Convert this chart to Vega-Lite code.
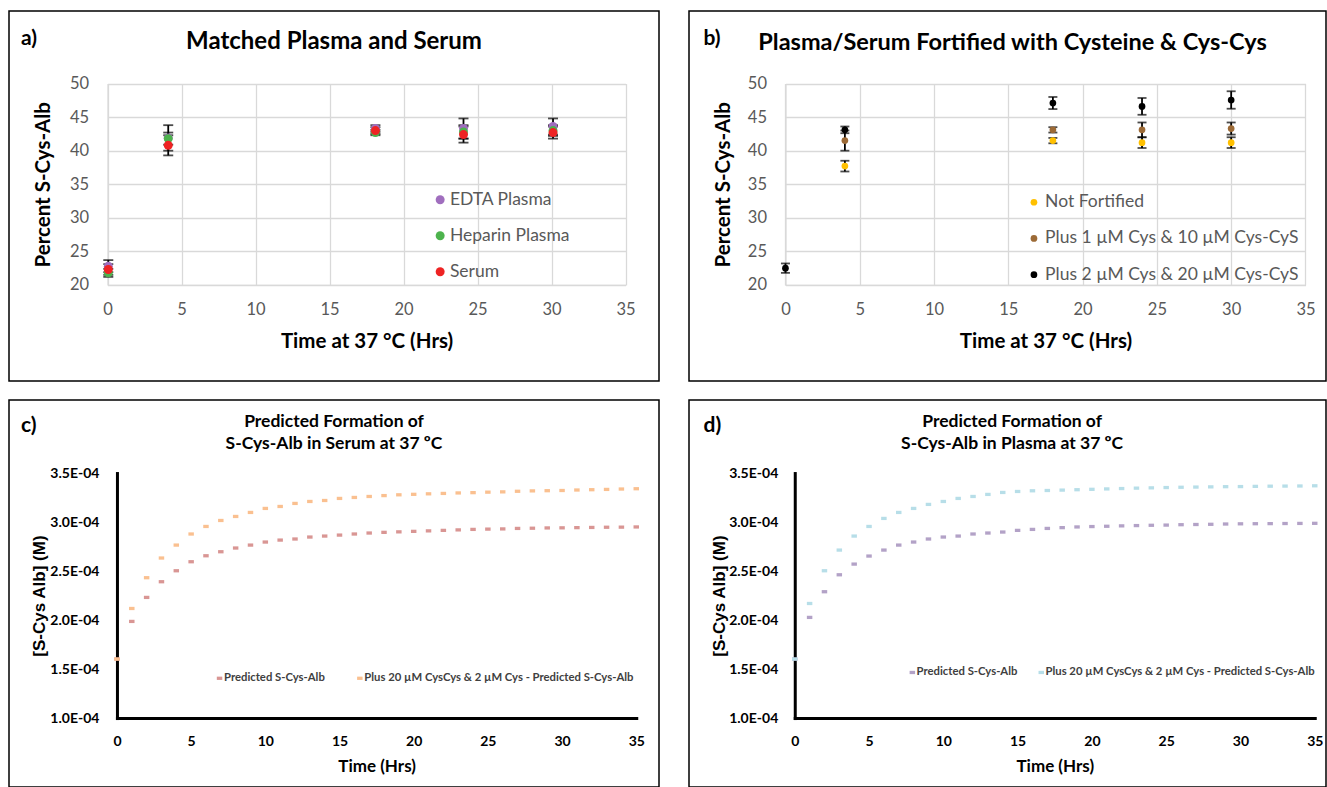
{
  "$schema": "https://vega.github.io/schema/vega-lite/v6.json",
  "background": "white",
  "padding": {"left": 8, "top": 10, "right": 0, "bottom": 0},
  "config": {
    "font": "Lato",
    "view": {"stroke": "#000000", "strokeWidth": 1.5},
    "title": {"font": "Lato", "fontWeight": "bold", "color": "#000000", "offset": 0, "baseline": "alphabetic", "frame": "group"},
    "axis": {"ticks": false, "tickSize": 0, "labelFlush": false, "labelFont": "Lato", "titleFont": "Lato", "titleFontWeight": "bold", "titleColor": "#000000"},
    "legend": {"labelFont": "Lato", "labelLimit": 500}
  },
  "datasets": {
    "a": [
      {"s": "EDTA Plasma", "t": 0.05, "v": 22.8, "e": 0.9},
      {"s": "EDTA Plasma", "t": 4.1, "v": 41.9, "e": 1.9},
      {"s": "EDTA Plasma", "t": 18.1, "v": 43.3, "e": 0.5},
      {"s": "EDTA Plasma", "t": 24.05, "v": 43.3, "e": 1.5},
      {"s": "EDTA Plasma", "t": 30.1, "v": 43.6, "e": 1.2},
      {"s": "Heparin Plasma", "t": 0.05, "v": 21.8, "e": 0.6},
      {"s": "Heparin Plasma", "t": 4.1, "v": 41.8, "e": 0.9},
      {"s": "Heparin Plasma", "t": 18.1, "v": 42.7, "e": 0.4},
      {"s": "Heparin Plasma", "t": 24.05, "v": 42.8, "e": 1.0},
      {"s": "Heparin Plasma", "t": 30.1, "v": 43.0, "e": 0.8},
      {"s": "Serum", "t": 0.05, "v": 22.3, "e": 0.8},
      {"s": "Serum", "t": 4.1, "v": 40.8, "e": 1.5},
      {"s": "Serum", "t": 18.1, "v": 43.0, "e": 0.5},
      {"s": "Serum", "t": 24.05, "v": 42.4, "e": 1.2},
      {"s": "Serum", "t": 30.1, "v": 42.7, "e": 0.9}
    ],
    "b": [
      {"s": "Not Fortified", "t": 4, "v": 37.7, "e": 0.8},
      {"s": "Not Fortified", "t": 18, "v": 41.5, "e": 0.4},
      {"s": "Not Fortified", "t": 24, "v": 41.2, "e": 0.8},
      {"s": "Not Fortified", "t": 30, "v": 41.2, "e": 0.8},
      {"s": "Plus 1 µM Cys & 10 µM Cys-CyS", "t": 4, "v": 41.5, "e": 1.5},
      {"s": "Plus 1 µM Cys & 10 µM Cys-CyS", "t": 18, "v": 43.1, "e": 0.4},
      {"s": "Plus 1 µM Cys & 10 µM Cys-CyS", "t": 24, "v": 43.1, "e": 1.1},
      {"s": "Plus 1 µM Cys & 10 µM Cys-CyS", "t": 30, "v": 43.3, "e": 0.9},
      {"s": "Plus 2 µM Cys & 20 µM Cys-CyS", "t": 0, "v": 22.5, "e": 0.7},
      {"s": "Plus 2 µM Cys & 20 µM Cys-CyS", "t": 4, "v": 43.1, "e": 0.5},
      {"s": "Plus 2 µM Cys & 20 µM Cys-CyS", "t": 18, "v": 47.1, "e": 0.9},
      {"s": "Plus 2 µM Cys & 20 µM Cys-CyS", "t": 24, "v": 46.6, "e": 1.25},
      {"s": "Plus 2 µM Cys & 20 µM Cys-CyS", "t": 30, "v": 47.55, "e": 1.3}
    ],
    "c": [
      {"s": "Predicted S-Cys-Alb", "t": 0, "v": 1.602e-4},
      {"s": "Predicted S-Cys-Alb", "t": 1, "v": 1.986e-4},
      {"s": "Predicted S-Cys-Alb", "t": 2, "v": 2.231e-4},
      {"s": "Predicted S-Cys-Alb", "t": 3, "v": 2.391e-4},
      {"s": "Predicted S-Cys-Alb", "t": 4, "v": 2.503e-4},
      {"s": "Predicted S-Cys-Alb", "t": 5, "v": 2.595e-4},
      {"s": "Predicted S-Cys-Alb", "t": 6, "v": 2.656e-4},
      {"s": "Predicted S-Cys-Alb", "t": 7, "v": 2.697e-4},
      {"s": "Predicted S-Cys-Alb", "t": 8, "v": 2.735e-4},
      {"s": "Predicted S-Cys-Alb", "t": 9, "v": 2.765e-4},
      {"s": "Predicted S-Cys-Alb", "t": 10, "v": 2.796e-4},
      {"s": "Predicted S-Cys-Alb", "t": 11, "v": 2.816e-4},
      {"s": "Predicted S-Cys-Alb", "t": 12, "v": 2.827e-4},
      {"s": "Predicted S-Cys-Alb", "t": 13, "v": 2.847e-4},
      {"s": "Predicted S-Cys-Alb", "t": 14, "v": 2.857e-4},
      {"s": "Predicted S-Cys-Alb", "t": 15, "v": 2.867e-4},
      {"s": "Predicted S-Cys-Alb", "t": 16, "v": 2.878e-4},
      {"s": "Predicted S-Cys-Alb", "t": 17, "v": 2.888e-4},
      {"s": "Predicted S-Cys-Alb", "t": 18, "v": 2.895e-4},
      {"s": "Predicted S-Cys-Alb", "t": 19, "v": 2.900e-4},
      {"s": "Predicted S-Cys-Alb", "t": 20, "v": 2.905e-4},
      {"s": "Predicted S-Cys-Alb", "t": 21, "v": 2.910e-4},
      {"s": "Predicted S-Cys-Alb", "t": 22, "v": 2.915e-4},
      {"s": "Predicted S-Cys-Alb", "t": 23, "v": 2.920e-4},
      {"s": "Predicted S-Cys-Alb", "t": 24, "v": 2.925e-4},
      {"s": "Predicted S-Cys-Alb", "t": 25, "v": 2.928e-4},
      {"s": "Predicted S-Cys-Alb", "t": 26, "v": 2.930e-4},
      {"s": "Predicted S-Cys-Alb", "t": 27, "v": 2.935e-4},
      {"s": "Predicted S-Cys-Alb", "t": 28, "v": 2.937e-4},
      {"s": "Predicted S-Cys-Alb", "t": 29, "v": 2.940e-4},
      {"s": "Predicted S-Cys-Alb", "t": 30, "v": 2.941e-4},
      {"s": "Predicted S-Cys-Alb", "t": 31, "v": 2.943e-4},
      {"s": "Predicted S-Cys-Alb", "t": 32, "v": 2.945e-4},
      {"s": "Predicted S-Cys-Alb", "t": 33, "v": 2.947e-4},
      {"s": "Predicted S-Cys-Alb", "t": 34, "v": 2.948e-4},
      {"s": "Predicted S-Cys-Alb", "t": 35, "v": 2.950e-4},
      {"s": "Plus 20 µM CysCys & 2 µM Cys - Predicted S-Cys-Alb", "t": 0, "v": 1.602e-4},
      {"s": "Plus 20 µM CysCys & 2 µM Cys - Predicted S-Cys-Alb", "t": 1, "v": 2.118e-4},
      {"s": "Plus 20 µM CysCys & 2 µM Cys - Predicted S-Cys-Alb", "t": 2, "v": 2.432e-4},
      {"s": "Plus 20 µM CysCys & 2 µM Cys - Predicted S-Cys-Alb", "t": 3, "v": 2.633e-4},
      {"s": "Plus 20 µM CysCys & 2 µM Cys - Predicted S-Cys-Alb", "t": 4, "v": 2.765e-4},
      {"s": "Plus 20 µM CysCys & 2 µM Cys - Predicted S-Cys-Alb", "t": 5, "v": 2.878e-4},
      {"s": "Plus 20 µM CysCys & 2 µM Cys - Predicted S-Cys-Alb", "t": 6, "v": 2.955e-4},
      {"s": "Plus 20 µM CysCys & 2 µM Cys - Predicted S-Cys-Alb", "t": 7, "v": 3.016e-4},
      {"s": "Plus 20 µM CysCys & 2 µM Cys - Predicted S-Cys-Alb", "t": 8, "v": 3.057e-4},
      {"s": "Plus 20 µM CysCys & 2 µM Cys - Predicted S-Cys-Alb", "t": 9, "v": 3.098e-4},
      {"s": "Plus 20 µM CysCys & 2 µM Cys - Predicted S-Cys-Alb", "t": 10, "v": 3.139e-4},
      {"s": "Plus 20 µM CysCys & 2 µM Cys - Predicted S-Cys-Alb", "t": 11, "v": 3.159e-4},
      {"s": "Plus 20 µM CysCys & 2 µM Cys - Predicted S-Cys-Alb", "t": 12, "v": 3.190e-4},
      {"s": "Plus 20 µM CysCys & 2 µM Cys - Predicted S-Cys-Alb", "t": 13, "v": 3.210e-4},
      {"s": "Plus 20 µM CysCys & 2 µM Cys - Predicted S-Cys-Alb", "t": 14, "v": 3.220e-4},
      {"s": "Plus 20 µM CysCys & 2 µM Cys - Predicted S-Cys-Alb", "t": 15, "v": 3.241e-4},
      {"s": "Plus 20 µM CysCys & 2 µM Cys - Predicted S-Cys-Alb", "t": 16, "v": 3.251e-4},
      {"s": "Plus 20 µM CysCys & 2 µM Cys - Predicted S-Cys-Alb", "t": 17, "v": 3.261e-4},
      {"s": "Plus 20 µM CysCys & 2 µM Cys - Predicted S-Cys-Alb", "t": 18, "v": 3.270e-4},
      {"s": "Plus 20 µM CysCys & 2 µM Cys - Predicted S-Cys-Alb", "t": 19, "v": 3.278e-4},
      {"s": "Plus 20 µM CysCys & 2 µM Cys - Predicted S-Cys-Alb", "t": 20, "v": 3.283e-4},
      {"s": "Plus 20 µM CysCys & 2 µM Cys - Predicted S-Cys-Alb", "t": 21, "v": 3.288e-4},
      {"s": "Plus 20 µM CysCys & 2 µM Cys - Predicted S-Cys-Alb", "t": 22, "v": 3.292e-4},
      {"s": "Plus 20 µM CysCys & 2 µM Cys - Predicted S-Cys-Alb", "t": 23, "v": 3.297e-4},
      {"s": "Plus 20 µM CysCys & 2 µM Cys - Predicted S-Cys-Alb", "t": 24, "v": 3.300e-4},
      {"s": "Plus 20 µM CysCys & 2 µM Cys - Predicted S-Cys-Alb", "t": 25, "v": 3.305e-4},
      {"s": "Plus 20 µM CysCys & 2 µM Cys - Predicted S-Cys-Alb", "t": 26, "v": 3.308e-4},
      {"s": "Plus 20 µM CysCys & 2 µM Cys - Predicted S-Cys-Alb", "t": 27, "v": 3.314e-4},
      {"s": "Plus 20 µM CysCys & 2 µM Cys - Predicted S-Cys-Alb", "t": 28, "v": 3.318e-4},
      {"s": "Plus 20 µM CysCys & 2 µM Cys - Predicted S-Cys-Alb", "t": 29, "v": 3.320e-4},
      {"s": "Plus 20 µM CysCys & 2 µM Cys - Predicted S-Cys-Alb", "t": 30, "v": 3.322e-4},
      {"s": "Plus 20 µM CysCys & 2 µM Cys - Predicted S-Cys-Alb", "t": 31, "v": 3.327e-4},
      {"s": "Plus 20 µM CysCys & 2 µM Cys - Predicted S-Cys-Alb", "t": 32, "v": 3.330e-4},
      {"s": "Plus 20 µM CysCys & 2 µM Cys - Predicted S-Cys-Alb", "t": 33, "v": 3.333e-4},
      {"s": "Plus 20 µM CysCys & 2 µM Cys - Predicted S-Cys-Alb", "t": 34, "v": 3.337e-4},
      {"s": "Plus 20 µM CysCys & 2 µM Cys - Predicted S-Cys-Alb", "t": 35, "v": 3.340e-4}
    ],
    "d": [
      {"s": "Predicted S-Cys-Alb", "t": 0, "v": 1.602e-4},
      {"s": "Predicted S-Cys-Alb", "t": 1, "v": 2.027e-4},
      {"s": "Predicted S-Cys-Alb", "t": 2, "v": 2.289e-4},
      {"s": "Predicted S-Cys-Alb", "t": 3, "v": 2.462e-4},
      {"s": "Predicted S-Cys-Alb", "t": 4, "v": 2.571e-4},
      {"s": "Predicted S-Cys-Alb", "t": 5, "v": 2.653e-4},
      {"s": "Predicted S-Cys-Alb", "t": 6, "v": 2.714e-4},
      {"s": "Predicted S-Cys-Alb", "t": 7, "v": 2.765e-4},
      {"s": "Predicted S-Cys-Alb", "t": 8, "v": 2.796e-4},
      {"s": "Predicted S-Cys-Alb", "t": 9, "v": 2.827e-4},
      {"s": "Predicted S-Cys-Alb", "t": 10, "v": 2.847e-4},
      {"s": "Predicted S-Cys-Alb", "t": 11, "v": 2.857e-4},
      {"s": "Predicted S-Cys-Alb", "t": 12, "v": 2.878e-4},
      {"s": "Predicted S-Cys-Alb", "t": 13, "v": 2.888e-4},
      {"s": "Predicted S-Cys-Alb", "t": 14, "v": 2.898e-4},
      {"s": "Predicted S-Cys-Alb", "t": 15, "v": 2.915e-4},
      {"s": "Predicted S-Cys-Alb", "t": 16, "v": 2.925e-4},
      {"s": "Predicted S-Cys-Alb", "t": 17, "v": 2.935e-4},
      {"s": "Predicted S-Cys-Alb", "t": 18, "v": 2.943e-4},
      {"s": "Predicted S-Cys-Alb", "t": 19, "v": 2.950e-4},
      {"s": "Predicted S-Cys-Alb", "t": 20, "v": 2.954e-4},
      {"s": "Predicted S-Cys-Alb", "t": 21, "v": 2.957e-4},
      {"s": "Predicted S-Cys-Alb", "t": 22, "v": 2.961e-4},
      {"s": "Predicted S-Cys-Alb", "t": 23, "v": 2.964e-4},
      {"s": "Predicted S-Cys-Alb", "t": 24, "v": 2.967e-4},
      {"s": "Predicted S-Cys-Alb", "t": 25, "v": 2.969e-4},
      {"s": "Predicted S-Cys-Alb", "t": 26, "v": 2.973e-4},
      {"s": "Predicted S-Cys-Alb", "t": 27, "v": 2.975e-4},
      {"s": "Predicted S-Cys-Alb", "t": 28, "v": 2.977e-4},
      {"s": "Predicted S-Cys-Alb", "t": 29, "v": 2.980e-4},
      {"s": "Predicted S-Cys-Alb", "t": 30, "v": 2.982e-4},
      {"s": "Predicted S-Cys-Alb", "t": 31, "v": 2.983e-4},
      {"s": "Predicted S-Cys-Alb", "t": 32, "v": 2.984e-4},
      {"s": "Predicted S-Cys-Alb", "t": 33, "v": 2.985e-4},
      {"s": "Predicted S-Cys-Alb", "t": 34, "v": 2.986e-4},
      {"s": "Predicted S-Cys-Alb", "t": 35, "v": 2.987e-4},
      {"s": "Plus 20 µM CysCys & 2 µM Cys - Predicted S-Cys-Alb", "t": 0, "v": 1.602e-4},
      {"s": "Plus 20 µM CysCys & 2 µM Cys - Predicted S-Cys-Alb", "t": 1, "v": 2.169e-4},
      {"s": "Plus 20 µM CysCys & 2 µM Cys - Predicted S-Cys-Alb", "t": 2, "v": 2.503e-4},
      {"s": "Plus 20 µM CysCys & 2 µM Cys - Predicted S-Cys-Alb", "t": 3, "v": 2.714e-4},
      {"s": "Plus 20 µM CysCys & 2 µM Cys - Predicted S-Cys-Alb", "t": 4, "v": 2.857e-4},
      {"s": "Plus 20 µM CysCys & 2 µM Cys - Predicted S-Cys-Alb", "t": 5, "v": 2.955e-4},
      {"s": "Plus 20 µM CysCys & 2 µM Cys - Predicted S-Cys-Alb", "t": 6, "v": 3.037e-4},
      {"s": "Plus 20 µM CysCys & 2 µM Cys - Predicted S-Cys-Alb", "t": 7, "v": 3.098e-4},
      {"s": "Plus 20 µM CysCys & 2 µM Cys - Predicted S-Cys-Alb", "t": 8, "v": 3.139e-4},
      {"s": "Plus 20 µM CysCys & 2 µM Cys - Predicted S-Cys-Alb", "t": 9, "v": 3.180e-4},
      {"s": "Plus 20 µM CysCys & 2 µM Cys - Predicted S-Cys-Alb", "t": 10, "v": 3.210e-4},
      {"s": "Plus 20 µM CysCys & 2 µM Cys - Predicted S-Cys-Alb", "t": 11, "v": 3.241e-4},
      {"s": "Plus 20 µM CysCys & 2 µM Cys - Predicted S-Cys-Alb", "t": 12, "v": 3.261e-4},
      {"s": "Plus 20 µM CysCys & 2 µM Cys - Predicted S-Cys-Alb", "t": 13, "v": 3.282e-4},
      {"s": "Plus 20 µM CysCys & 2 µM Cys - Predicted S-Cys-Alb", "t": 14, "v": 3.302e-4},
      {"s": "Plus 20 µM CysCys & 2 µM Cys - Predicted S-Cys-Alb", "t": 15, "v": 3.312e-4},
      {"s": "Plus 20 µM CysCys & 2 µM Cys - Predicted S-Cys-Alb", "t": 16, "v": 3.319e-4},
      {"s": "Plus 20 µM CysCys & 2 µM Cys - Predicted S-Cys-Alb", "t": 17, "v": 3.322e-4},
      {"s": "Plus 20 µM CysCys & 2 µM Cys - Predicted S-Cys-Alb", "t": 18, "v": 3.326e-4},
      {"s": "Plus 20 µM CysCys & 2 µM Cys - Predicted S-Cys-Alb", "t": 19, "v": 3.330e-4},
      {"s": "Plus 20 µM CysCys & 2 µM Cys - Predicted S-Cys-Alb", "t": 20, "v": 3.334e-4},
      {"s": "Plus 20 µM CysCys & 2 µM Cys - Predicted S-Cys-Alb", "t": 21, "v": 3.338e-4},
      {"s": "Plus 20 µM CysCys & 2 µM Cys - Predicted S-Cys-Alb", "t": 22, "v": 3.342e-4},
      {"s": "Plus 20 µM CysCys & 2 µM Cys - Predicted S-Cys-Alb", "t": 23, "v": 3.346e-4},
      {"s": "Plus 20 µM CysCys & 2 µM Cys - Predicted S-Cys-Alb", "t": 24, "v": 3.349e-4},
      {"s": "Plus 20 µM CysCys & 2 µM Cys - Predicted S-Cys-Alb", "t": 25, "v": 3.352e-4},
      {"s": "Plus 20 µM CysCys & 2 µM Cys - Predicted S-Cys-Alb", "t": 26, "v": 3.355e-4},
      {"s": "Plus 20 µM CysCys & 2 µM Cys - Predicted S-Cys-Alb", "t": 27, "v": 3.357e-4},
      {"s": "Plus 20 µM CysCys & 2 µM Cys - Predicted S-Cys-Alb", "t": 28, "v": 3.359e-4},
      {"s": "Plus 20 µM CysCys & 2 µM Cys - Predicted S-Cys-Alb", "t": 29, "v": 3.361e-4},
      {"s": "Plus 20 µM CysCys & 2 µM Cys - Predicted S-Cys-Alb", "t": 30, "v": 3.362e-4},
      {"s": "Plus 20 µM CysCys & 2 µM Cys - Predicted S-Cys-Alb", "t": 31, "v": 3.364e-4},
      {"s": "Plus 20 µM CysCys & 2 µM Cys - Predicted S-Cys-Alb", "t": 32, "v": 3.366e-4},
      {"s": "Plus 20 µM CysCys & 2 µM Cys - Predicted S-Cys-Alb", "t": 33, "v": 3.367e-4},
      {"s": "Plus 20 µM CysCys & 2 µM Cys - Predicted S-Cys-Alb", "t": 34, "v": 3.368e-4},
      {"s": "Plus 20 µM CysCys & 2 µM Cys - Predicted S-Cys-Alb", "t": 35, "v": 3.370e-4}
    ]
  },
  "spacing": 17,
  "resolve": {"scale": {"color": "independent"}},
  "vconcat": [
    {
      "spacing": 28,
      "resolve": {"scale": {"color": "independent"}},
      "hconcat": [
        {
          "title": {"text": "a)", "anchor": "start", "fontSize": 21, "dx": 12, "dy": 43},
          "vconcat": [
            {
              "width": 650,
              "height": 370,
              "data": {"name": "a"},
              "title": {"text": "Matched Plasma and Serum", "anchor": "middle", "fontSize": 24, "dy": 47},
              "resolve": {"axis": {"x": "independent"}},
              "layer": [
                {
                  "mark": {"type": "errorbar", "color": "#000000", "ticks": {"size": 10, "thickness": 1.8}, "rule": {"strokeWidth": 1.8}},
                  "encoding": {
                    "x": {"field": "t", "type": "quantitative", "scale": {"domain": [0, 35], "range": [98.55, 616.55], "nice": false, "zero": false},
                      "axis": {"orient": "top", "grid": true, "gridColor": "#d9d9d9", "gridWidth": 1.3, "labels": false, "domain": false, "ticks": false, "title": null, "values": [0, 5, 10, 15, 20, 25, 30, 35]}},
                    "y": {"field": "v", "type": "quantitative", "scale": {"domain": [20, 50], "range": [273.95, 72.55], "nice": false, "zero": false},
                      "axis": {"offset": -98.55, "grid": true, "gridColor": "#d9d9d9", "gridWidth": 1.3, "values": [20, 25, 30, 35, 40, 45, 50], "title": "Percent S-Cys-Alb", "titleFontSize": 20.5, "titlePadding": 15.5, "labelFontSize": 16.5, "labelColor": "#595959", "labelPadding": 19, "domainColor": "#d9d9d9", "domainWidth": 1.3}},
                    "yError": {"field": "e"}
                  }
                },
                {
                  "mark": {"type": "circle", "size": 80, "opacity": 1},
                  "encoding": {
                    "x": {"field": "t", "type": "quantitative", "scale": {"domain": [0, 35], "range": [98.55, 616.55], "nice": false, "zero": false},
                      "axis": {"orient": "bottom", "offset": -96.05, "grid": false, "values": [0, 5, 10, 15, 20, 25, 30, 35], "title": "Time at 37 °C (Hrs)", "titleFontSize": 20.5, "titlePadding": 13.5, "labelFontSize": 16.5, "labelColor": "#595959", "labelPadding": 17, "domainColor": "#d9d9d9", "domainWidth": 1.3}},
                    "y": {"field": "v", "type": "quantitative", "scale": {"domain": [20, 50], "range": [273.95, 72.55], "nice": false, "zero": false},
                      "axis": {"offset": -98.55, "grid": true, "gridColor": "#d9d9d9", "gridWidth": 1.3, "values": [20, 25, 30, 35, 40, 45, 50], "title": "Percent S-Cys-Alb", "titleFontSize": 20.5, "titlePadding": 15.5, "labelFontSize": 16.5, "labelColor": "#595959", "labelPadding": 19, "domainColor": "#d9d9d9", "domainWidth": 1.3}},
                    "color": {"field": "s", "type": "nominal",
                      "scale": {"domain": ["EDTA Plasma", "Heparin Plasma", "Serum"], "range": ["#A06EBE", "#4DB34D", "#EE2323"]},
                      "legend": {"title": null, "orient": "none", "legendX": 422.4, "legendY": 180, "labelFontSize": 17.5, "labelColor": "#595959", "labelOffset": 1, "rowPadding": 17, "symbolSize": 80, "symbolType": "circle", "symbolStrokeWidth": 0, "symbolOpacity": 1}}
                  }
                }
              ]
            }
          ]
        },
        {
          "title": {"text": "b)", "anchor": "start", "fontSize": 21, "dx": 14.5, "dy": 43},
          "vconcat": [
            {
              "width": 637,
              "height": 370,
              "data": {"name": "b"},
              "title": {"text": "Plasma/Serum Fortified with Cysteine & Cys-Cys", "anchor": "middle", "fontSize": 23.5, "dx": 5, "dy": 47},
              "resolve": {"axis": {"x": "independent"}},
              "layer": [
                {
                  "mark": {"type": "errorbar", "color": "#000000", "ticks": {"size": 9, "thickness": 1.8}, "rule": {"strokeWidth": 1.8}},
                  "encoding": {
                    "x": {"field": "t", "type": "quantitative", "scale": {"domain": [0, 35], "range": [96.45, 616.45], "nice": false, "zero": false},
                      "axis": {"orient": "top", "grid": true, "gridColor": "#d9d9d9", "gridWidth": 1.3, "labels": false, "domain": false, "ticks": false, "title": null, "values": [0, 5, 10, 15, 20, 25, 30, 35]}},
                    "y": {"field": "v", "type": "quantitative", "scale": {"domain": [20, 50], "range": [273.95, 72.55], "nice": false, "zero": false},
                      "axis": {"offset": -96.45, "grid": true, "gridColor": "#d9d9d9", "gridWidth": 1.3, "values": [20, 25, 30, 35, 40, 45, 50], "title": "Percent S-Cys-Alb", "titleFontSize": 20.5, "titlePadding": 14, "labelFontSize": 16.5, "labelColor": "#595959", "labelPadding": 19, "domainColor": "#d9d9d9", "domainWidth": 1.3}},
                    "yError": {"field": "e"}
                  }
                },
                {
                  "mark": {"type": "circle", "size": 45, "opacity": 1},
                  "encoding": {
                    "x": {"field": "t", "type": "quantitative", "scale": {"domain": [0, 35], "range": [96.45, 616.45], "nice": false, "zero": false},
                      "axis": {"orient": "bottom", "offset": -96.05, "grid": false, "values": [0, 5, 10, 15, 20, 25, 30, 35], "title": "Time at 37 °C (Hrs)", "titleFontSize": 20.5, "titlePadding": 13.5, "labelFontSize": 16.5, "labelColor": "#595959", "labelPadding": 17, "domainColor": "#d9d9d9", "domainWidth": 1.3}},
                    "y": {"field": "v", "type": "quantitative", "scale": {"domain": [20, 50], "range": [273.95, 72.55], "nice": false, "zero": false},
                      "axis": {"offset": -96.45, "grid": true, "gridColor": "#d9d9d9", "gridWidth": 1.3, "values": [20, 25, 30, 35, 40, 45, 50], "title": "Percent S-Cys-Alb", "titleFontSize": 20.5, "titlePadding": 14, "labelFontSize": 16.5, "labelColor": "#595959", "labelPadding": 19, "domainColor": "#d9d9d9", "domainWidth": 1.3}},
                    "color": {"field": "s", "type": "nominal",
                      "scale": {"domain": ["Not Fortified", "Plus 1 µM Cys & 10 µM Cys-CyS", "Plus 2 µM Cys & 20 µM Cys-CyS"], "range": ["#FFC000", "#9C6A36", "#000000"]},
                      "legend": {"title": null, "orient": "none", "legendX": 336.2, "legendY": 182.5, "labelFontSize": 17.5, "labelColor": "#595959", "labelOffset": 2.4, "rowPadding": 17.2, "symbolSize": 45, "symbolType": "circle", "symbolStrokeWidth": 0, "symbolOpacity": 1}}
                  }
                }
              ]
            }
          ]
        }
      ]
    },
    {
      "spacing": 28,
      "resolve": {"scale": {"color": "independent"}},
      "hconcat": [
        {
          "title": {"text": "c)", "anchor": "start", "fontSize": 21, "dx": 12, "dy": 40.5},
          "vconcat": [
            {
              "width": 650,
              "height": 387,
              "data": {"name": "c"},
              "title": {"text": ["Predicted Formation of", "S-Cys-Alb in Serum at 37 ºC"], "anchor": "middle", "fontSize": 17.5, "lineHeight": 21.5, "dy": 56.2},
              "mark": {"type": "point", "filled": true, "opacity": 1, "size": 30, "shape": "M-1,-0.6L1,-0.6L1,0.6L-1,0.6Z"},
              "encoding": {
                "x": {"field": "t", "type": "quantitative", "scale": {"domain": [0, 35], "range": [107.95, 627.25], "nice": false, "zero": false},
                  "axis": {"offset": -68.95, "grid": false, "values": [0, 5, 10, 15, 20, 25, 30, 35], "domainColor": "#000000", "domainWidth": 3, "domainCap": "square", "labelFontSize": 14, "labelFontWeight": "bold", "labelColor": "#000000", "labelPadding": 16, "title": "Time (Hrs)", "titleFontSize": 17, "titlePadding": 10}},
                "y": {"field": "v", "type": "quantitative", "scale": {"domain": [0.0001, 0.00035], "range": [318.05, 73.05], "nice": false, "zero": false},
                  "axis": {"offset": -107.95, "grid": false, "values": [0.0001, 0.00015, 0.0002, 0.00025, 0.0003, 0.00035], "labelExpr": "format(datum.value * 10000, '.1f') + 'E-04'", "domainColor": "#000000", "domainWidth": 3, "domainCap": "square", "labelFontSize": 14, "labelFontWeight": "bold", "labelColor": "#000000", "labelPadding": 18, "title": "[S-Cys Alb] (M)", "titleFont": "Liberation Sans", "titleFontSize": 17, "titlePadding": 1}},
                "color": {"field": "s", "type": "nominal",
                  "scale": {"domain": ["Predicted S-Cys-Alb", "Plus 20 µM CysCys & 2 µM Cys - Predicted S-Cys-Alb"], "range": ["#D99694", "#FAC090"]},
                  "legend": {"title": null, "orient": "none", "direction": "horizontal", "legendX": 204.9, "legendY": 272.6, "symbolType": "M-1,-0.6L1,-0.6L1,0.6L-1,0.6Z", "symbolSize": 30, "symbolStrokeWidth": 0, "symbolOpacity": 1, "labelFontSize": 11.3, "labelFontWeight": "bold", "labelColor": "#404040", "labelOffset": -1.2, "columnPadding": 29.3}}
              }
            }
          ]
        },
        {
          "title": {"text": "d)", "anchor": "start", "fontSize": 21, "dx": 14.5, "dy": 40.5},
          "vconcat": [
            {
              "width": 637,
              "height": 387,
              "data": {"name": "d"},
              "title": {"text": ["Predicted Formation of", "S-Cys-Alb in Plasma at 37 ºC"], "anchor": "middle", "fontSize": 17.5, "lineHeight": 21.5, "dx": 4.6, "dy": 56.2},
              "mark": {"type": "point", "filled": true, "opacity": 1, "size": 30, "shape": "M-1,-0.6L1,-0.6L1,0.6L-1,0.6Z"},
              "encoding": {
                "x": {"field": "t", "type": "quantitative", "scale": {"domain": [0, 35], "range": [105.75, 625.75], "nice": false, "zero": false},
                  "axis": {"offset": -68.95, "grid": false, "values": [0, 5, 10, 15, 20, 25, 30, 35], "domainColor": "#000000", "domainWidth": 3, "domainCap": "square", "labelFontSize": 14, "labelFontWeight": "bold", "labelColor": "#000000", "labelPadding": 16, "title": "Time (Hrs)", "titleFontSize": 17, "titlePadding": 10}},
                "y": {"field": "v", "type": "quantitative", "scale": {"domain": [0.0001, 0.00035], "range": [318.05, 73.05], "nice": false, "zero": false},
                  "axis": {"offset": -105.75, "grid": false, "values": [0.0001, 0.00015, 0.0002, 0.00025, 0.0003, 0.00035], "labelExpr": "format(datum.value * 10000, '.1f') + 'E-04'", "domainColor": "#000000", "domainWidth": 3, "domainCap": "square", "labelFontSize": 14, "labelFontWeight": "bold", "labelColor": "#000000", "labelPadding": 17, "title": "[S-Cys Alb] (M)", "titleFont": "Liberation Sans", "titleFontSize": 17, "titlePadding": 0}},
                "color": {"field": "s", "type": "nominal",
                  "scale": {"domain": ["Predicted S-Cys-Alb", "Plus 20 µM CysCys & 2 µM Cys - Predicted S-Cys-Alb"], "range": ["#B3A2C7", "#B7DEE8"]},
                  "legend": {"title": null, "orient": "none", "direction": "horizontal", "legendX": 217.7, "legendY": 266.8, "symbolType": "M-1,-0.6L1,-0.6L1,0.6L-1,0.6Z", "symbolSize": 30, "symbolStrokeWidth": 0, "symbolOpacity": 1, "labelFontSize": 11.3, "labelFontWeight": "bold", "labelColor": "#404040", "labelOffset": -1.4, "columnPadding": 17.9}}
              }
            }
          ]
        }
      ]
    }
  ]
}
